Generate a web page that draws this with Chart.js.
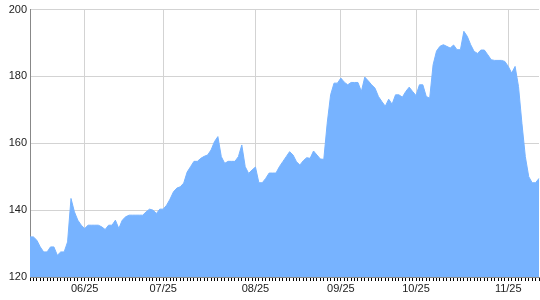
<!DOCTYPE html>
<html>
<head>
<meta charset="utf-8">
<script src="https://cdn.jsdelivr.net/npm/chart.js@4/dist/chart.umd.min.js"></script>
<style>
  html, body { margin: 0; padding: 0; background: #fff; }
  #wrap { width: 540px; height: 300px; }
</style>
</head>
<body>
<div id="wrap"><canvas id="chart" width="540" height="300"></canvas></div>
<script>
// hodnoty odčítané z obrázka (jeden bod na každý dielik osi x)
const values = [
  132, 132, 131, 129, 127.5, 127.5, 129, 129, 126.5, 127.5,
  127.5, 130.5, 143.5, 139.5, 137, 135.5, 134.5, 135.5, 135.5, 135.5,
  135.5, 135, 134.2, 135.5, 135.5, 137, 134.5, 137, 138, 138.5,
  138.5, 138.5, 138.5, 138.5, 139.5, 140.3, 140, 139, 140.3, 140.3,
  141.5, 143.3, 145.5, 146.6, 147, 148.1, 151.4, 153, 154.6, 154.6,
  155.5, 156.1, 156.5, 158, 160.5, 162, 156, 154, 154.6, 154.6,
  154.6, 156, 159.5, 153, 151, 152, 152.9, 148.2, 148.2, 149.5,
  151.1, 151.1, 151.1, 153, 154.5, 156, 157.5, 156.5, 154.5, 153.5,
  154.8, 155.7, 155.5, 157.7, 156.5, 155.3, 155.2, 166, 174.5, 178,
  178, 179.5, 178.3, 177.5, 178.2, 178.2, 178.2, 175.5, 179.8, 178.7,
  177.5, 176.5, 174, 172.5, 171.1, 173.2, 171.7, 174.5, 174.5, 173.8,
  175.5, 176.8, 175.5, 174.3, 177.5, 177.5, 174, 173.5, 183.5, 187.6,
  189, 189.5, 189, 188.5, 189.4, 188, 188, 193.5, 192, 189.5,
  187.5, 186.9, 187.9, 187.9, 186.5, 185, 184.8, 184.8, 184.8, 184.5,
  183, 181, 183, 177, 166, 156, 150, 148.2, 148.2, 149.5
];

// popisky osi x a indexy bodov, kde sú
const tickLabels = ["06/25", "07/25", "08/25", "09/25", "10/25", "11/25"];
const tickIndexes = [16, 39, 66, 91, 113, 140];

const yTicks = [120, 140, 160, 180, 200];

const categories = values.map(() => "");
tickIndexes.forEach((idx, i) => {
  categories[idx] = tickLabels[i];
});

const ctx = document.getElementById("chart").getContext("2d");

new Chart(ctx, {
  type: "line",
  data: {
    labels: categories,
    datasets: [
      {
        data: values,
        fill: "start",
        backgroundColor: "rgb(119, 179, 255)",
        borderColor: "rgb(119, 179, 255)",
        borderWidth: 1,
        pointRadius: 0,
        tension: 0,
      },
    ],
  },
  options: {
    responsive: false,
    animation: false,
    layout: { padding: { top: 8, right: 1, left: 0, bottom: 0 } },
    plugins: {
      legend: { display: false },
      tooltip: { enabled: false },
    },
    scales: {
      x: {
        offset: false,
        border: { color: "#888", width: 1 },
        grid: {
          color: (c) => (c.tick && c.tick.label ? "#d3d3d3" : "rgba(0,0,0,0)"),
          tickColor: "#000",
          tickLength: 4,
          tickWidth: 1,
        },
        ticks: {
          autoSkip: false,
          maxRotation: 0,
          padding: 1,
          color: "#222",
          font: { family: "Liberation Sans", size: 11 },
        },
        afterFit: (scale) => {
          scale.height = 23;
        },
      },
      y: {
        min: 120,
        max: 200,
        border: { color: "#888", width: 1 },
        grid: { color: "#d3d3d3", drawTicks: false },
        afterBuildTicks: (scale) => {
          scale.ticks = yTicks.map((v) => ({ value: v }));
        },
        ticks: {
          padding: 3,
          color: "#222",
          font: { family: "Liberation Sans", size: 11 },
        },
        afterFit: (scale) => {
          scale.width = 30;
        },
      },
    },
  },
});
</script>
</body>
</html>
